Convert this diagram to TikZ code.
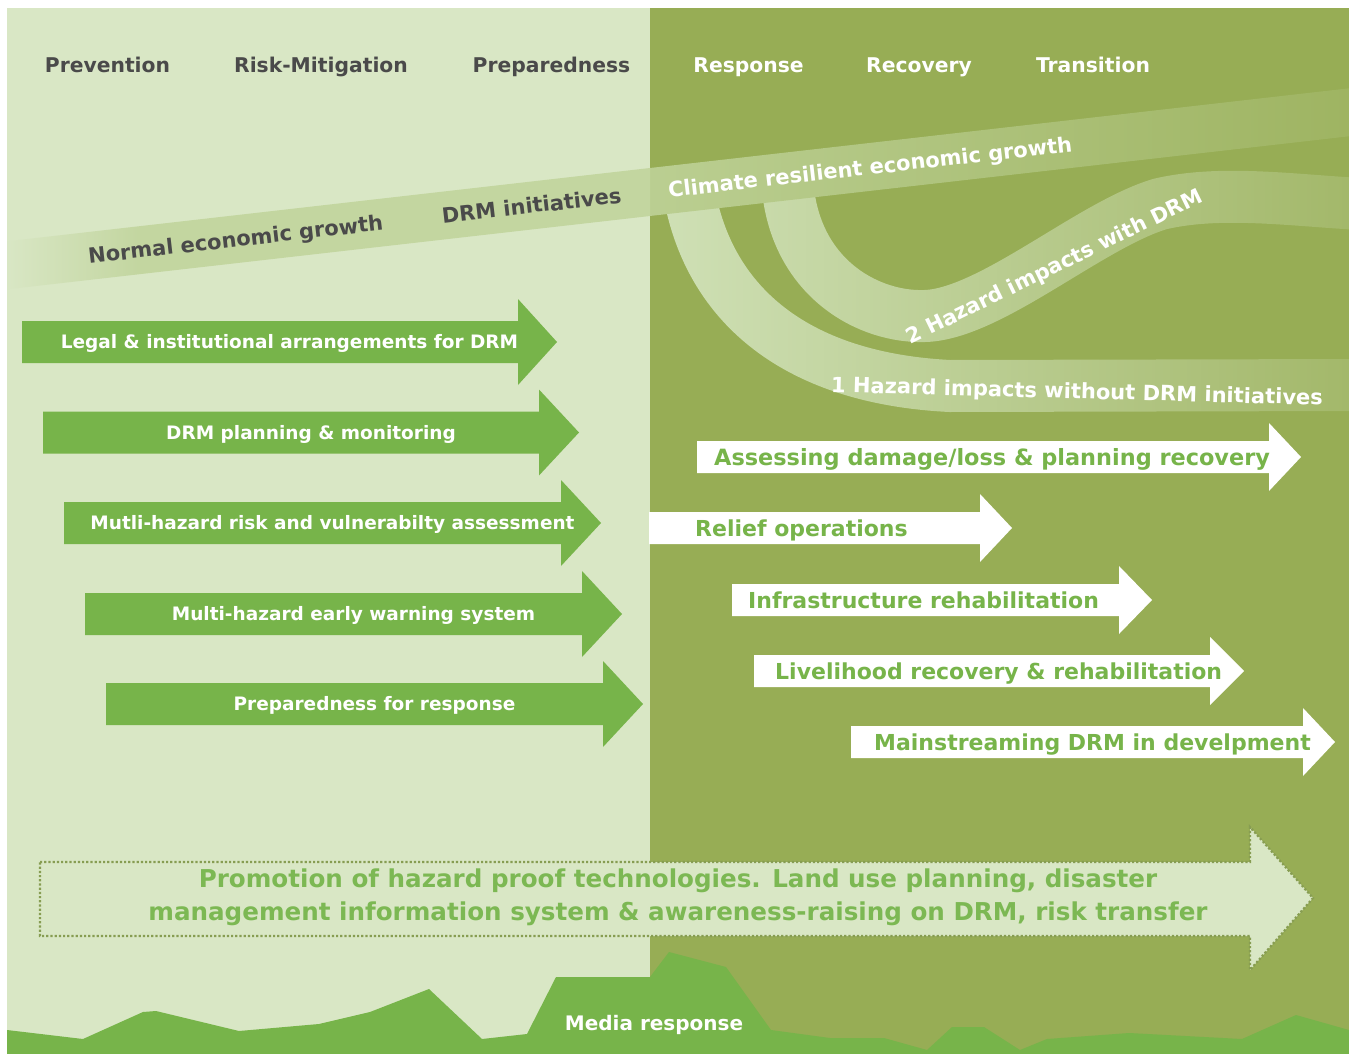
\documentclass[tikz,border=0pt]{standalone}
\usepackage{fontspec}
\setmainfont{DejaVu Sans}
\usetikzlibrary{fadings}
\definecolor{lightbg}{HTML}{D9E7C5}
\definecolor{darkbg}{HTML}{97AD55}
\definecolor{agreen}{HTML}{77B44A}
\definecolor{bandL}{HTML}{C3D6A0}
\definecolor{bandD}{HTML}{BBCF92}
\definecolor{curveC}{HTML}{D0E1B7}
\definecolor{graytxt}{HTML}{4A4A4A}
\definecolor{dotc}{HTML}{879D52}
\definecolor{promo}{HTML}{7CB853}
\tikzfading[name=fadeopaqueleft, left color=transparent!0, right color=transparent!100]
\tikzfading[name=faderight, left color=transparent!100, right color=transparent!22]
\newcommand\fsz[1]{\fontsize{#1}{#1}\selectfont\bfseries}
\newcommand\fatarrow[7]{%
  \path[#1] ({#2},{#3-#6}) -- ({#4},{#3-#6}) -- ({#4},{#3-#7}) -- ({#5},{#3})
    -- ({#4},{#3+#7}) -- ({#4},{#3+#6}) -- ({#2},{#3+#6}) -- cycle;}
\begin{document}
\begin{tikzpicture}[x=1pt,y=-1pt,
  hdr/.style={font=\fsz{20.3}, inner sep=0pt, anchor=base},
  lefttxt/.style={font=\fsz{18.5}, text=white, inner sep=0pt, text height=13.5pt, text depth=0pt},
  righttxt/.style={font=\fsz{22}, text=agreen, inner sep=0pt, anchor=west, text height=16pt, text depth=0pt},
  bandtxt/.style={font=\fsz{21}, inner sep=0pt, text height=15.3pt, text depth=0pt},
  promotxt/.style={font=\fsz{24.6}, text=promo, inner sep=0pt, anchor=base},
  greenarrow/.style={fill=agreen},
  whitearrow/.style={fill=white},
  curveband/.style={draw=curveC, line width=52pt}]
\useasboundingbox (0,0) rectangle (1349,1054);
% panels
\fill[white] (0,0) rectangle (1349,1054);
\fill[lightbg] (7,8) rectangle (650,1054);
\fill[darkbg] (650,8) rectangle (1349,1054);
% hazard curves
\begin{scope}
\clip (650,80) rectangle (1349,440);
\path[curveband] (689,192) .. controls (708,300) and (790,378) .. (950,386) -- (1360,385);
\path[curveband] (788,190) .. controls (798,280) and (870,318) .. (925,316)
   .. controls (990,314) and (1090,225) .. (1160,204)
   .. controls (1220,190) and (1290,200) .. (1360,204);
\end{scope}
% economic band
\fill[bandL] (7,241.3) -- (650,168) -- (650,216) -- (7,289.3) -- cycle;
\fill[bandD] (650,168) -- (1349,88.3) -- (1349,136.3) -- (650,216) -- cycle;
% fades
\fill[darkbg, path fading=faderight] (650,75) rectangle (1349,445);
\fill[lightbg, path fading=fadeopaqueleft] (7,225) rectangle (140,300);
% band texts
\node[bandtxt, text=graytxt, rotate=6.5] (normal) at (235.5,239.3) {Normal economic growth};
\node[bandtxt, text=graytxt, rotate=6.5] (drmini) at (531.5,205.5) {DRM initiatives};
\node[bandtxt, text=white, rotate=6.5] (climate) at (870,167) {Climate resilient economic growth};
\node[bandtxt, text=white, rotate=26] (haz2) at (1054,266) {2 Hazard impacts with DRM};
\node[bandtxt, text=white, rotate=-1.5] (haz1) at (1077,391) {1 Hazard impacts without DRM initiatives};
% headers
\node[hdr, text=graytxt] (h1) at (107.5,73) {Prevention};
\node[hdr, text=graytxt] (h2) at (321,73) {Risk-Mitigation};
\node[hdr, text=graytxt] (h3) at (551.5,73) {Preparedness};
\node[hdr, text=white] (h4) at (748.5,73) {Response};
\node[hdr, text=white] (h5) at (919,73) {Recovery};
\node[hdr, text=white] (h6) at (1093,73) {Transition};
% left green arrows
\fatarrow{greenarrow}{22}{342}{518}{557}{21}{43}
\node[lefttxt] (a1) at (289.5,342) {Legal \& institutional arrangements for DRM};
\fatarrow{greenarrow}{43}{432.5}{539}{579}{21}{43}
\node[lefttxt] (a2) at (311,432.5) {DRM planning \& monitoring};
\fatarrow{greenarrow}{64}{523}{561}{601}{21}{43}
\node[lefttxt] (a3) at (332.5,523) {Mutli-hazard risk and vulnerabilty assessment};
\fatarrow{greenarrow}{85}{614}{582}{622}{21}{43}
\node[lefttxt] (a4) at (353.5,614) {Multi-hazard early warning system};
\fatarrow{greenarrow}{106}{704}{603}{643}{21}{43}
\node[lefttxt] (a5) at (374.5,704) {Preparedness for response};
% right white arrows
\fatarrow{whitearrow}{697}{457}{1269}{1301}{16}{34}
\node[righttxt, font=\fsz{22.4}] (b1) at (714,457) {Assessing damage/loss \& planning recovery};
\fatarrow{whitearrow}{649}{528}{980}{1012}{16}{34}
\node[righttxt] (b2) at (695,528) {Relief operations};
\fatarrow{whitearrow}{732}{600}{1119}{1152}{16}{34}
\node[righttxt] (b3) at (748,600) {Infrastructure rehabilitation};
\fatarrow{whitearrow}{754}{671}{1210}{1244}{16}{34}
\node[righttxt] (b4) at (775,671) {Livelihood recovery \& rehabilitation};
\fatarrow{whitearrow}{851}{742}{1303}{1335}{16}{34}
\node[righttxt] (b5) at (874,742) {Mainstreaming DRM in develpment};
% big bottom arrow
\path[fill=lightbg, draw=dotc, dotted, line width=2.2pt]
  (40,862) -- (1250,862) -- (1250,827) -- (1313,898) -- (1250,970) -- (1250,936) -- (40,936) -- cycle;
\node[promotxt] (p1) at (678,887)
  {Promotion of hazard proof technologies. Land use planning, disaster};
\node[promotxt] (p2) at (678,920)
  {management information system \& awareness-raising on DRM, risk transfer};
% mountains
\fill[agreen] (7,1030) -- (83,1039) -- (143,1012) -- (156,1011) -- (239,1031) -- (319,1024)
  -- (370,1012) -- (429,989) -- (482,1039) -- (527,1034) -- (556,977) -- (650,977)
  -- (669,952) -- (726,967) -- (771,1030) -- (830,1038) -- (884,1038) -- (927,1050)
  -- (952,1027) -- (984,1027) -- (1020,1050) -- (1047,1039) -- (1129,1033) -- (1242,1039)
  -- (1296,1015) -- (1349,1030) -- (1349,1054) -- (7,1054) -- cycle;
\node[font=\fsz{20}, text=white, inner sep=0pt, anchor=base] (media) at (654,1030) {Media response};
\end{tikzpicture}
\end{document}
